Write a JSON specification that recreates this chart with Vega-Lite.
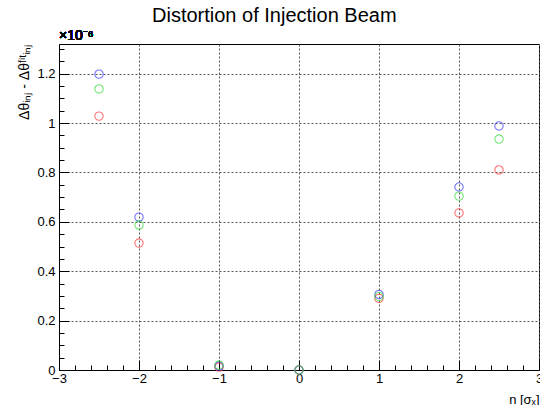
{
  "$schema": "https://vega.github.io/schema/vega-lite/v6.json",
  "width": 480,
  "height": 326,
  "autosize": {"type": "none"},
  "padding": {"left": 59, "top": 44, "right": 1, "bottom": 35},
  "background": "white",
  "title": {
    "text": "Distortion of Injection Beam",
    "font": "Liberation Sans",
    "fontSize": 20,
    "fontWeight": "normal",
    "color": "#000000",
    "anchor": "middle",
    "frame": "bounds",
    "offset": 3,
    "dx": -6
  },
  "config": {
    "view": {"stroke": "#000000", "strokeWidth": 1},
    "axis": {
      "domainColor": "#000000",
      "tickColor": "#000000",
      "labelFont": "Liberation Sans",
      "labelFontSize": 13,
      "labelColor": "#000000",
      "titleFont": "Liberation Sans",
      "titleFontWeight": "normal",
      "titleColor": "#000000",
      "gridColor": "#555555",
      "gridDash": [2, 2],
      "gridWidth": 1
    }
  },
  "data": {
    "values": [
      {"n": -2.5, "series": "red", "v": 1.028},
      {"n": -2, "series": "red", "v": 0.514},
      {"n": -1, "series": "red", "v": 0.012},
      {"n": 0, "series": "red", "v": 0.0},
      {"n": 1, "series": "red", "v": 0.29},
      {"n": 2, "series": "red", "v": 0.636},
      {"n": 2.5, "series": "red", "v": 0.81},
      {"n": -2.5, "series": "blue", "v": 1.198},
      {"n": -2, "series": "blue", "v": 0.619},
      {"n": -1, "series": "blue", "v": 0.016},
      {"n": 0, "series": "blue", "v": 0.0},
      {"n": 1, "series": "blue", "v": 0.306},
      {"n": 2, "series": "blue", "v": 0.741},
      {"n": 2.5, "series": "blue", "v": 0.988},
      {"n": -2.5, "series": "green", "v": 1.138},
      {"n": -2, "series": "green", "v": 0.587},
      {"n": -1, "series": "green", "v": 0.02},
      {"n": 0, "series": "green", "v": 0.0},
      {"n": 1, "series": "green", "v": 0.298},
      {"n": 2, "series": "green", "v": 0.704},
      {"n": 2.5, "series": "green", "v": 0.935}
    ]
  },
  "layer": [
    {
      "mark": {"type": "point", "filled": false, "size": 70, "strokeWidth": 1.1, "clip": false},
      "encoding": {
        "x": {
          "field": "n",
          "type": "quantitative",
          "scale": {"domain": [-3, 3], "nice": false, "zero": false},
          "axis": {
            "values": [-3, -2.8, -2.6, -2.4, -2.2, -2, -1.8, -1.6, -1.4, -1.2, -1, -0.8, -0.6, -0.4, -0.2, 0, 0.2, 0.4, 0.6, 0.8, 1, 1.2, 1.4, 1.6, 1.8, 2, 2.2, 2.4, 2.6, 2.8, 3],
            "tickCount": 200,
            "labelExpr": "abs(datum.value - round(datum.value)) < 0.001 ? format(datum.value, 'd') : ''",
            "tickSize": {"condition": {"test": "abs(datum.value - round(datum.value)) < 0.001", "value": -10}, "value": -5},
            "gridOpacity": {"condition": {"test": "abs(datum.value - round(datum.value)) < 0.001", "value": 1}, "value": 0},
            "labelPadding": 12,
            "labelFlush": false,
            "labelOverlap": false,
            "title": "n [σₓ]",
            "titleAnchor": "end",
            "titleAlign": "right",
            "titleFontSize": 13,
            "titlePadding": 3
          }
        },
        "y": {
          "field": "v",
          "type": "quantitative",
          "scale": {"domain": [0, 1.32], "nice": false},
          "axis": {
            "values": [0, 0.05, 0.1, 0.15, 0.2, 0.25, 0.3, 0.35, 0.4, 0.45, 0.5, 0.55, 0.6, 0.65, 0.7, 0.75, 0.8, 0.85, 0.9, 0.95, 1, 1.05, 1.1, 1.15, 1.2, 1.25, 1.3],
            "tickCount": 200,
            "labelExpr": "abs(datum.value*5 - round(datum.value*5)) < 0.001 ? format(datum.value, '~g') : ''",
            "tickSize": {"condition": {"test": "abs(datum.value*5 - round(datum.value*5)) < 0.001", "value": -10}, "value": -5},
            "gridOpacity": {"condition": {"test": "abs(datum.value*5 - round(datum.value*5)) < 0.001 && datum.value > 0", "value": 1}, "value": 0},
            "labelPadding": 14,
            "labelFlush": false,
            "labelOverlap": false,
            "title": "Δθᵢₙⱼ - Δθᶠⁱᵗᵢₙⱼ",
            "titleAnchor": "end",
            "titleFontSize": 14,
            "titlePadding": 5
          }
        },
        "color": {
          "field": "series",
          "type": "nominal",
          "scale": {"domain": ["red", "blue", "green"], "range": ["#ff3c3c", "#3c3cff", "#3cdc3c"]},
          "legend": null
        }
      }
    },
    {
      "mark": {"type": "text", "align": "left", "baseline": "bottom", "font": "Liberation Sans", "fontSize": 14, "dy": -1, "dx": 0, "clip": false, "color": "#000000"},
      "encoding": {
        "x": {"datum": -3, "type": "quantitative"},
        "y": {"datum": 1.32, "type": "quantitative"},
        "text": {"value": "×10⁻⁶"}
      }
    }
  ]
}
